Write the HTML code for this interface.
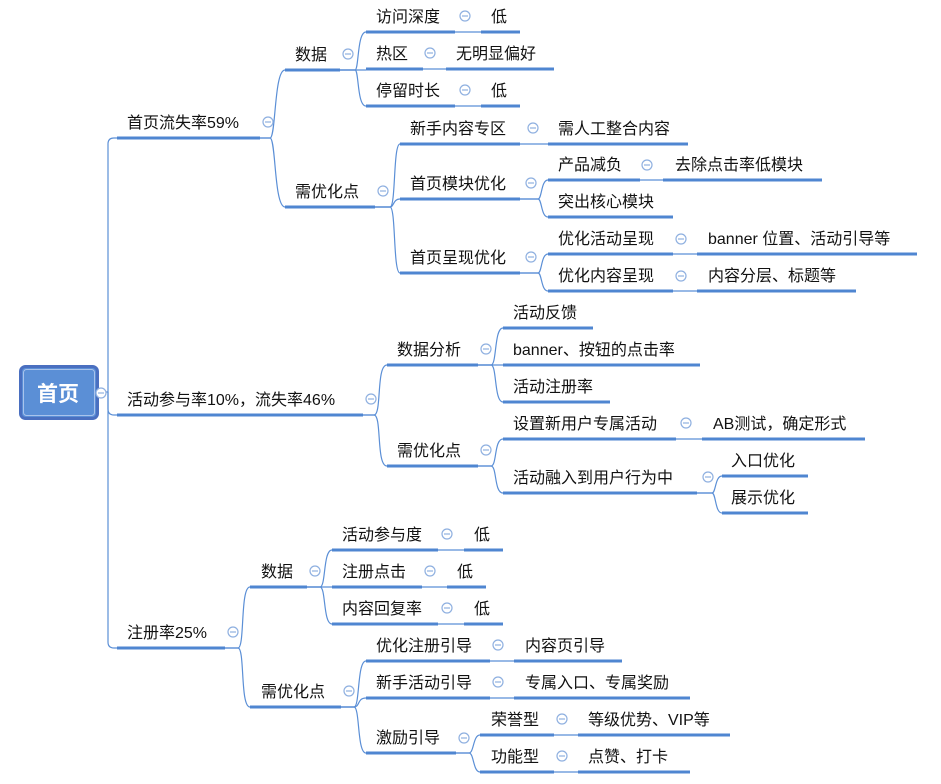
<!DOCTYPE html>
<html><head><meta charset="utf-8"><style>
html,body{margin:0;padding:0;background:#fff;}
svg{display:block;}
text{font-family:"Liberation Sans","Noto Sans CJK SC",sans-serif;font-size:16px;fill:#111;}
.u{stroke:#4f86d1;stroke-width:3;}
.c{stroke:#5b8fd6;stroke-width:1.2;fill:none;}
.k{fill:#fff;stroke:#8fb0e0;stroke-width:1.2;}
.m{stroke:#8fb0e0;stroke-width:1.2;}
</style></head><body>
<svg width="941" height="784" viewBox="0 0 941 784" xmlns="http://www.w3.org/2000/svg">
<defs>
<g id="ci"><circle cx="0" cy="0" r="5" class="k"/><line x1="-3" y1="0" x2="3" y2="0" class="m"/></g>
</defs>
<!-- connectors -->
<g class="c">
<path d="M98 392 H108"/>
<path d="M108 392 V144 Q108 138 114 138 H117"/>
<path d="M108 392 V409 Q108 415 114 415 H117"/>
<path d="M108 392 V642 Q108 648 114 648 H117"/>
<!-- L2 首页流失率 -->
<path d="M260 138 H270 C276 138 274 70 285 70"/>
<path d="M260 138 H270 C276 138 274 207 285 207"/>
<!-- 数据 -->
<path d="M340 70 H355 C359 70 357 32 366 32"/>
<path d="M340 70 H366"/>
<path d="M340 70 H355 C359 70 357 106 366 106"/>
<path d="M455 32 H481"/><path d="M423 69 H446"/><path d="M455 106 H481"/>
<!-- 需优化点 -->
<path d="M375 207 H390 C396 207 393 144 400 144"/>
<path d="M375 207 H390 C394 207 393 199 400 199"/>
<path d="M375 207 H390 C396 207 393 273 400 273"/>
<path d="M520 144 H548"/>
<path d="M520 199 H538 C542 199 541 180 548 180"/>
<path d="M520 199 H538 C542 199 541 217 548 217"/>
<path d="M640 180 H663"/>
<path d="M520 273 H538 C542 273 541 254 548 254"/>
<path d="M520 273 H538 C542 273 541 291 548 291"/>
<path d="M673 254 H697"/><path d="M673 291 H697"/>
<!-- 活动参与率 -->
<path d="M363 415 H374 C382 415 376 365 387 365"/>
<path d="M363 415 H374 C382 415 376 466 387 466"/>
<path d="M478 365 H491 C497 365 494 328 503 328"/>
<path d="M478 365 H503"/>
<path d="M478 365 H491 C497 365 494 402 503 402"/>
<path d="M478 466 H491 C497 466 494 439 503 439"/>
<path d="M478 466 H491 C497 466 494 493 503 493"/>
<path d="M676 439 H702"/>
<path d="M697 493 H712 C716 493 715 476 722 476"/>
<path d="M697 493 H712 C716 493 715 513 722 513"/>
<!-- 注册率 -->
<path d="M225 648 H238 C245 648 240 587 250 587"/>
<path d="M225 648 H238 C245 648 240 707 250 707"/>
<path d="M307 587 H320 C326 587 323 550 332 550"/>
<path d="M307 587 H332"/>
<path d="M307 587 H320 C326 587 323 624 332 624"/>
<path d="M438 550 H464"/><path d="M422 587 H447"/><path d="M438 624 H464"/>
<path d="M341 707 H354 C360 707 357 661 366 661"/>
<path d="M341 707 H354 C360 707 357 698 366 698"/>
<path d="M341 707 H354 C360 707 357 753 366 753"/>
<path d="M490 661 H514"/><path d="M490 698 H514"/>
<path d="M456 753 H469 C474 753 473 735 480 735"/>
<path d="M456 753 H469 C474 753 473 772 480 772"/>
<path d="M554 735 H578"/><path d="M554 772 H578"/>
</g>
<!-- underlines -->
<g class="u">
<line x1="117" y1="138" x2="260" y2="138"/>
<line x1="117" y1="415" x2="363" y2="415"/>
<line x1="117" y1="648" x2="225" y2="648"/>
<line x1="285" y1="70" x2="340" y2="70"/>
<line x1="285" y1="207" x2="375" y2="207"/>
<line x1="366" y1="32" x2="455" y2="32"/><line x1="481" y1="32" x2="520" y2="32"/>
<line x1="366" y1="69" x2="423" y2="69"/><line x1="446" y1="69" x2="554" y2="69"/>
<line x1="366" y1="106" x2="455" y2="106"/><line x1="481" y1="106" x2="520" y2="106"/>
<line x1="400" y1="144" x2="520" y2="144"/><line x1="548" y1="144" x2="688" y2="144"/>
<line x1="400" y1="199" x2="520" y2="199"/>
<line x1="548" y1="180" x2="640" y2="180"/><line x1="663" y1="180" x2="822" y2="180"/>
<line x1="548" y1="217" x2="673" y2="217"/>
<line x1="400" y1="273" x2="520" y2="273"/>
<line x1="548" y1="254" x2="673" y2="254"/><line x1="697" y1="254" x2="917" y2="254"/>
<line x1="548" y1="291" x2="673" y2="291"/><line x1="697" y1="291" x2="856" y2="291"/>
<line x1="387" y1="365" x2="478" y2="365"/>
<line x1="503" y1="328" x2="593" y2="328"/>
<line x1="503" y1="365" x2="700" y2="365"/>
<line x1="503" y1="402" x2="610" y2="402"/>
<line x1="387" y1="466" x2="478" y2="466"/>
<line x1="503" y1="439" x2="676" y2="439"/><line x1="702" y1="439" x2="865" y2="439"/>
<line x1="503" y1="493" x2="697" y2="493"/>
<line x1="722" y1="476" x2="808" y2="476"/>
<line x1="722" y1="513" x2="808" y2="513"/>
<line x1="250" y1="587" x2="307" y2="587"/>
<line x1="332" y1="550" x2="438" y2="550"/><line x1="464" y1="550" x2="503" y2="550"/>
<line x1="332" y1="587" x2="422" y2="587"/><line x1="447" y1="587" x2="486" y2="587"/>
<line x1="332" y1="624" x2="438" y2="624"/><line x1="464" y1="624" x2="503" y2="624"/>
<line x1="250" y1="707" x2="341" y2="707"/>
<line x1="366" y1="661" x2="490" y2="661"/><line x1="514" y1="661" x2="622" y2="661"/>
<line x1="366" y1="698" x2="490" y2="698"/><line x1="514" y1="698" x2="690" y2="698"/>
<line x1="366" y1="753" x2="456" y2="753"/>
<line x1="480" y1="735" x2="554" y2="735"/><line x1="578" y1="735" x2="730" y2="735"/>
<line x1="480" y1="772" x2="554" y2="772"/><line x1="578" y1="772" x2="690" y2="772"/>
</g>
<!-- root -->
<rect x="20.5" y="366.5" width="77" height="52" rx="5" fill="#5b8fd6" stroke="#4a6fc0" stroke-width="3"/>
<rect x="23.5" y="369.5" width="71" height="46" rx="3" fill="none" stroke="#a9c3ec" stroke-width="1"/>
<text x="58" y="401" text-anchor="middle" style="font-size:21px;font-weight:bold;fill:#fff">首页</text>
<!-- circles -->
<use href="#ci" x="101" y="393"/>
<use href="#ci" x="268" y="122"/><use href="#ci" x="371" y="399"/><use href="#ci" x="233" y="632"/>
<use href="#ci" x="348" y="54"/><use href="#ci" x="383" y="191"/>
<use href="#ci" x="465" y="16"/><use href="#ci" x="430" y="53"/><use href="#ci" x="465" y="90"/>
<use href="#ci" x="533" y="128"/><use href="#ci" x="531" y="183"/><use href="#ci" x="531" y="257"/>
<use href="#ci" x="647" y="165"/><use href="#ci" x="681" y="239"/><use href="#ci" x="681" y="276"/>
<use href="#ci" x="486" y="349"/><use href="#ci" x="486" y="450"/>
<use href="#ci" x="686" y="423"/><use href="#ci" x="708" y="477"/>
<use href="#ci" x="315" y="571"/><use href="#ci" x="349" y="691"/>
<use href="#ci" x="447" y="534"/><use href="#ci" x="430" y="571"/><use href="#ci" x="447" y="608"/>
<use href="#ci" x="498" y="645"/><use href="#ci" x="498" y="682"/><use href="#ci" x="464" y="738"/>
<use href="#ci" x="562" y="719"/><use href="#ci" x="562" y="756"/>
<!-- labels -->
<text x="127" y="128">首页流失率59%</text>
<text x="127" y="405">活动参与率10%，流失率46%</text>
<text x="127" y="638">注册率25%</text>
<text x="295" y="60">数据</text>
<text x="295" y="197">需优化点</text>
<text x="376" y="22">访问深度</text><text x="491" y="22">低</text>
<text x="376" y="59">热区</text><text x="456" y="59">无明显偏好</text>
<text x="376" y="96">停留时长</text><text x="491" y="96">低</text>
<text x="410" y="134">新手内容专区</text><text x="558" y="134">需人工整合内容</text>
<text x="410" y="189">首页模块优化</text>
<text x="558" y="170">产品减负</text><text x="675" y="170">去除点击率低模块</text>
<text x="558" y="207">突出核心模块</text>
<text x="410" y="263">首页呈现优化</text>
<text x="558" y="244">优化活动呈现</text><text x="708" y="244">banner 位置、活动引导等</text>
<text x="558" y="281">优化内容呈现</text><text x="708" y="281">内容分层、标题等</text>
<text x="397" y="355">数据分析</text>
<text x="513" y="318">活动反馈</text>
<text x="513" y="355">banner、按钮的点击率</text>
<text x="513" y="392">活动注册率</text>
<text x="397" y="456">需优化点</text>
<text x="513" y="429">设置新用户专属活动</text><text x="713" y="429">AB测试，确定形式</text>
<text x="513" y="483">活动融入到用户行为中</text>
<text x="731" y="466">入口优化</text>
<text x="731" y="503">展示优化</text>
<text x="261" y="577">数据</text>
<text x="342" y="540">活动参与度</text><text x="474" y="540">低</text>
<text x="342" y="577">注册点击</text><text x="457" y="577">低</text>
<text x="342" y="614">内容回复率</text><text x="474" y="614">低</text>
<text x="261" y="697">需优化点</text>
<text x="376" y="651">优化注册引导</text><text x="525" y="651">内容页引导</text>
<text x="376" y="688">新手活动引导</text><text x="525" y="688">专属入口、专属奖励</text>
<text x="376" y="743">激励引导</text>
<text x="491" y="725">荣誉型</text><text x="588" y="725">等级优势、VIP等</text>
<text x="491" y="762">功能型</text><text x="588" y="762">点赞、打卡</text>
</svg>
</body></html>
